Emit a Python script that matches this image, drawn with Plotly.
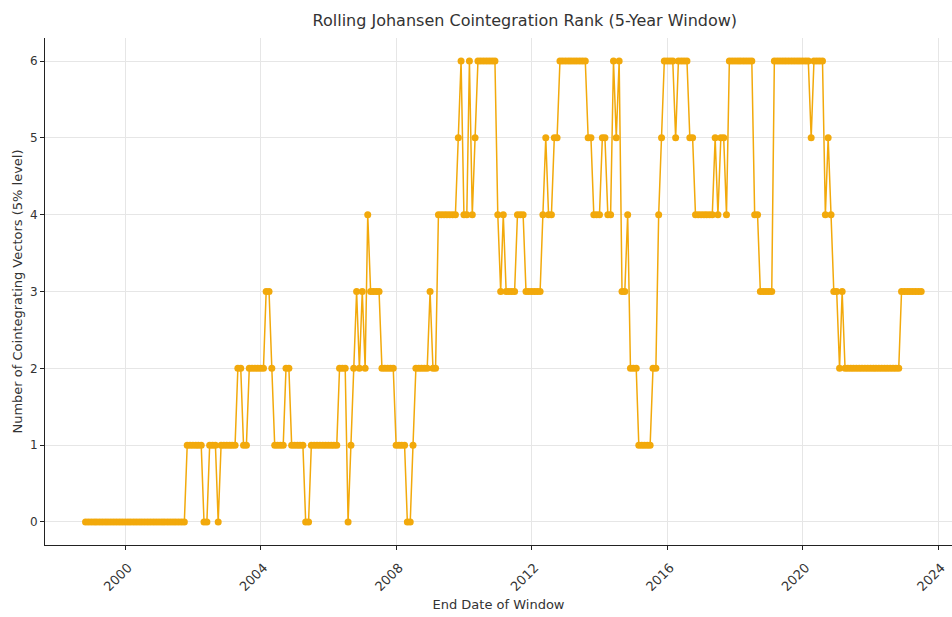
import pandas as pd
import plotly.graph_objects as go

# Monthly rolling-window end dates (month ends), Oct 1998 .. Jun 2023
start_date = "1998-10-31"

# Johansen cointegration rank at the 5% level, one value per window end
rank = [
    # 1998-10 .. 2001-09
    0, 0, 0, 0, 0, 0, 0, 0, 0, 0, 0, 0,
    0, 0, 0, 0, 0, 0, 0, 0, 0, 0, 0, 0,
    0, 0, 0, 0, 0, 0, 0, 0, 0, 0, 0, 0,
    # 2001-10 ..
    1, 1, 1, 1, 1, 1, 0, 0, 1, 1, 1, 0,
    1, 1, 1, 1, 1, 1, 2, 2, 1, 1, 2, 2,
    2, 2, 2, 2, 3, 3, 2, 1, 1, 1, 1, 2,
    2, 1, 1, 1, 1, 1, 0, 0, 1, 1, 1, 1,
    1, 1, 1, 1, 1, 1, 2, 2, 2, 0, 1, 2,
    3, 2, 3, 2, 4, 3, 3, 3, 3, 2, 2, 2,
    2, 2, 1, 1, 1, 1, 0, 0, 1, 2, 2, 2,
    2, 2, 3, 2, 2, 4, 4, 4, 4, 4, 4, 4,
    5, 6, 4, 4, 6, 4, 5, 6, 6, 6, 6, 6,
    6, 6, 4, 3, 4, 3, 3, 3, 3, 4, 4, 4,
    3, 3, 3, 3, 3, 3, 4, 5, 4, 4, 5, 5,
    6, 6, 6, 6, 6, 6, 6, 6, 6, 6, 5, 5,
    4, 4, 4, 5, 5, 4, 4, 6, 5, 6, 3, 3,
    4, 2, 2, 2, 1, 1, 1, 1, 1, 2, 2, 4,
    5, 6, 6, 6, 6, 5, 6, 6, 6, 6, 5, 5,
    4, 4, 4, 4, 4, 4, 4, 5, 4, 5, 5, 4,
    6, 6, 6, 6, 6, 6, 6, 6, 6, 4, 4, 3,
    3, 3, 3, 3, 6, 6, 6, 6, 6, 6, 6, 6,
    6, 6, 6, 6, 6, 5, 6, 6, 6, 6, 4, 5,
    4, 3, 3, 2, 3, 2, 2, 2, 2, 2, 2, 2,
    2, 2, 2, 2, 2, 2, 2, 2, 2, 2, 2, 2,
    2, 3, 3, 3, 3, 3, 3, 3, 3,
]

dates = pd.date_range(start=start_date, periods=len(rank), freq="ME")

year_ticks = [2000, 2004, 2008, 2012, 2016, 2020, 2024]
y_ticks = [0, 1, 2, 3, 4, 5, 6]

title_text = "Rolling Johansen Cointegration Rank (5-Year Window)"
x_title = "End Date of Window"
y_title = "Number of Cointegrating Vectors (5% level)"

color = "#F2A90B"
font_family = "DejaVu Sans"

fig = go.Figure()
fig.add_trace(
    go.Scatter(
        x=dates,
        y=rank,
        mode="lines+markers",
        line=dict(color=color, width=1.5),
        marker=dict(color=color, size=7),
        showlegend=False,
    )
)

fig.update_layout(
    width=952,
    height=617,
    margin=dict(l=45, r=0, t=38, b=72, pad=0),
    paper_bgcolor="white",
    plot_bgcolor="white",
    font=dict(family=font_family, color="#333333", size=12),
    title=dict(
        text=title_text,
        x=0.529,
        xanchor="center",
        xref="paper",
        y=1 - 20 / 617,
        yref="container",
        yanchor="middle",
        font=dict(size=16, color="#333333", family=font_family),
    ),
)

fig.update_xaxes(
    type="date",
    range=["1997-08-20", "2024-05-27"],
    tickvals=[f"{y}-01-01" for y in year_ticks],
    ticktext=[str(y) for y in year_ticks],
    tickangle=-45,
    tickfont=dict(size=13, color="#333333"),
    ticklabelshift=3,
    ticklabelstandoff=5,
    showline=True,
    linecolor="#222222",
    linewidth=1,
    ticks="outside",
    ticklen=4,
    tickcolor="#222222",
    showgrid=True,
    gridcolor="#e6e6e6",
    gridwidth=1,
    zeroline=False,
    title=dict(text=x_title, font=dict(size=13, color="#333333"), standoff=6),
)

fig.update_yaxes(
    range=[-0.3, 6.3],
    tickvals=y_ticks,
    ticktext=[str(v) for v in y_ticks],
    tickfont=dict(size=12, color="#333333"),
    showline=True,
    linecolor="#222222",
    linewidth=1,
    ticks="outside",
    ticklen=4,
    tickcolor="#222222",
    showgrid=True,
    gridcolor="#e6e6e6",
    gridwidth=1,
    zeroline=False,
    title=dict(text=y_title, font=dict(size=13, color="#333333"), standoff=4),
)

fig.write_html("out.html")
